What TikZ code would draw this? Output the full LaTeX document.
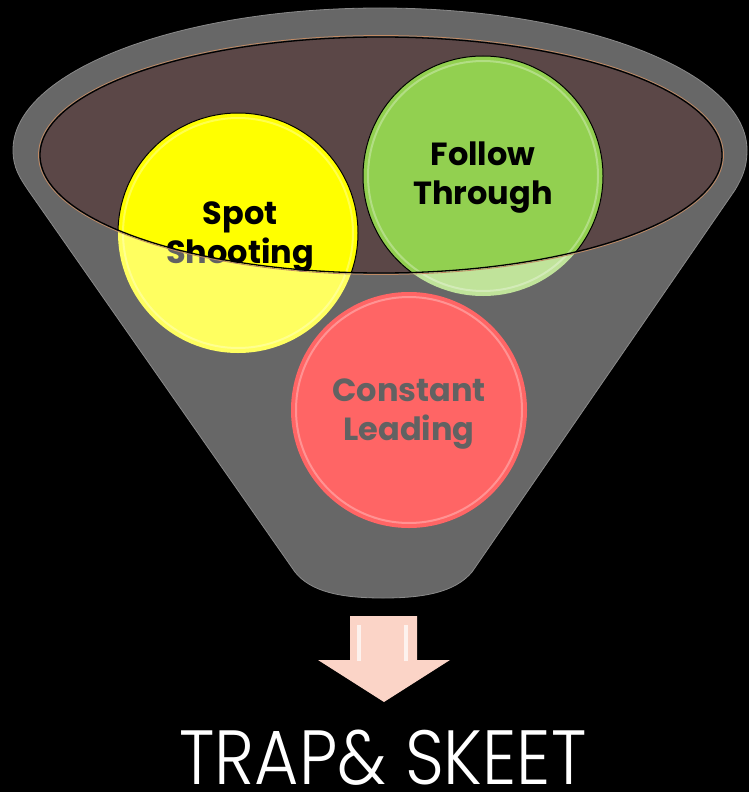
\documentclass[tikz,border=0pt]{standalone}
\usepackage{fontspec}
\setmainfont{Poppins}
\IfFontExistsTF{Poppins Light}
  {\newfontfamily\titlefont{Poppins Light}}
  {\newfontfamily\titlefont{Poppins}}
\definecolor{funnelgrey}{HTML}{676767}
\definecolor{funneledge}{HTML}{8A8A8A}
\definecolor{rimbrown}{HTML}{5B4747}
\definecolor{rimtan}{HTML}{C08A64}
\definecolor{spotyel}{HTML}{FFFF00}
\definecolor{spotyellight}{HTML}{FFFF60}
\definecolor{followgreen}{HTML}{92D050}
\definecolor{followgreenlight}{HTML}{C0E39A}
\definecolor{leadred}{HTML}{FF6565}
\definecolor{textgrey}{HTML}{626262}
\definecolor{arrowpink}{HTML}{FBD4C7}
\tikzset{
  ball/.style={circle, minimum size=240pt, inner sep=0pt, draw=none},
  balltext/.style={align=center, inner sep=0pt,
    font=\fontsize{32}{39}\selectfont\bfseries},
  gloss/.style={white, opacity=0.3, line width=2pt},
}
\begin{document}
\begin{tikzpicture}[x=1pt,y=-1pt]
\fill[black] (0,0) rectangle (749,792);
\useasboundingbox (0,0) rectangle (749,792);

% funnel body
\fill[funnelgrey, draw=funneledge, line width=0.8pt]
  (13,150) .. controls (13,72) and (177,8) .. (380,8)
  .. controls (583,8) and (747,72) .. (747,150)
  .. controls (747,168) and (742,178) .. (735,190)
  -- (472,572)
  .. controls (455,592) and (425,598) .. (383,598)
  .. controls (341,598) and (311,592) .. (295,572)
  -- (28,190)
  .. controls (20,178) and (13,168) .. (13,150) -- cycle;

% mouth of the funnel
\coordinate (rim) at (381,155);
\fill[rimbrown] (rim) ellipse [x radius=341pt, y radius=118pt];

% balls, pale where they sit below the rim
\node[ball, fill=spotyellight] (spot) at (238,233) {};
\node[ball, fill=followgreenlight] (follow) at (483,176) {};
\node[ball, fill=leadred, minimum size=236pt] (lead) at (409,410) {};

% glossy rings
\draw[gloss] (spot.center) circle (115pt);
\draw[gloss] (follow.center) circle (115pt);
\draw[gloss] (lead.center) circle (113pt);

% labels seen through the funnel wall
\node[balltext, text=textgrey] (spottext) at (240,237) {Spot\\Shooting};
\node[balltext, text=textgrey] (leadtext) at (409,414) {Constant\\Leading};

% inside the mouth: saturated colours, dark outlines, black labels
\begin{scope}
  \clip (rim) ellipse [x radius=341pt, y radius=118pt];
  \fill[spotyel] (spot.center) circle (120pt);
  \fill[followgreen] (follow.center) circle (120pt);
  \draw[gloss] (spot.center) circle (115pt);
  \draw[gloss] (follow.center) circle (115pt);
  \draw[black, line width=1pt] (spot.center) circle (120pt);
  \draw[black, line width=1pt] (follow.center) circle (120pt);
  \node[balltext, text=black] (spottextin) at (240,237) {Spot\\Shooting};
\end{scope}
\node[balltext, text=black] (followtext) at (483,178) {Follow\\Through};

% rim outline
\draw[rimtan, line width=0.8pt] (rim) ellipse [x radius=342.5pt, y radius=119.5pt];
\draw[black, line width=1.3pt] (rim) ellipse [x radius=341pt, y radius=118pt];

% block arrow below the funnel
\fill[arrowpink] (350,616) -- (417,616) -- (417,660) -- (450,660)
  -- (384,702) -- (318,660) -- (350,660) -- cycle;
\fill[white, opacity=0.7] (357,625) rectangle (361,661);
\fill[white, opacity=0.7] (404,625) rectangle (408,661);

% result
\node[anchor=base, text=white, inner sep=0pt,
  font=\fontsize{68}{72}\selectfont\titlefont] (title) at (383,784)
  {\scalebox{1}[1.13]{TRAP\& SKEET}};
\end{tikzpicture}
\end{document}
